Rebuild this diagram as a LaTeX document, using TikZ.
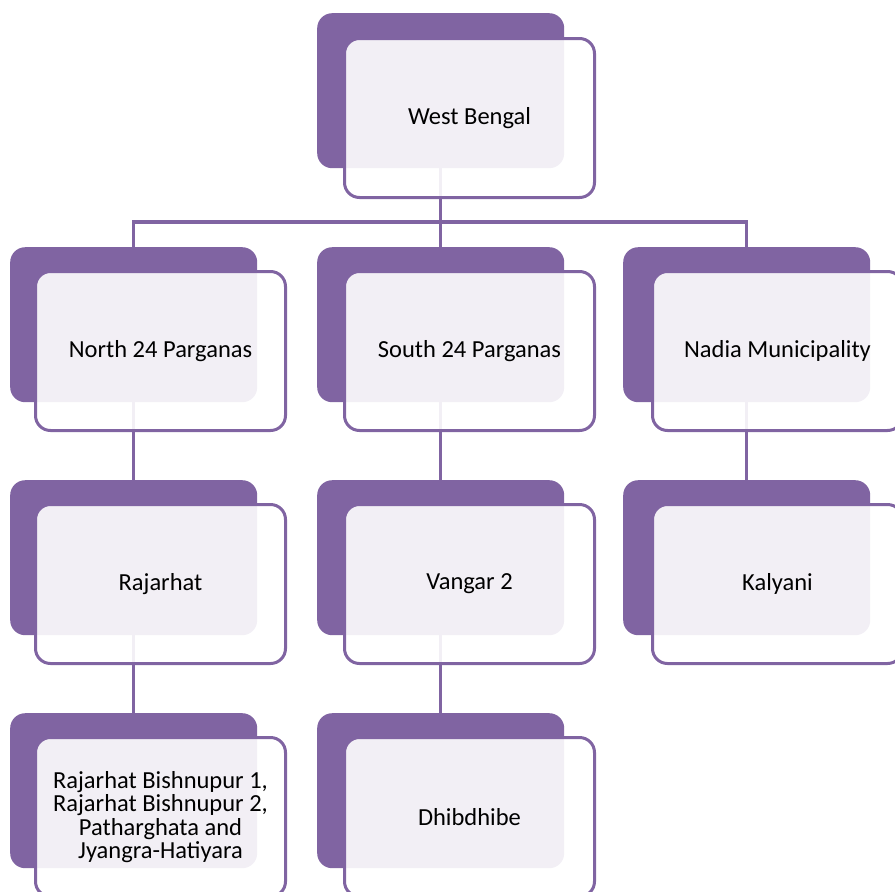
\documentclass[tikz,border=0pt]{standalone}
\usepackage{fontspec}
\setmainfont{Carlito}
\usetikzlibrary{positioning,calc}
\definecolor{smartpurple}{HTML}{8064A2}

\begin{document}
\begin{tikzpicture}[x=1pt,y=-1pt]
\useasboundingbox (0,0) rectangle (895,892);

\tikzstyle{back} = [fill=smartpurple, rounded corners=15pt, minimum width=247pt, minimum height=155pt, anchor=north west, inner sep=0pt]
\tikzstyle{block} = [draw=smartpurple, line width=3pt, fill=white, fill opacity=0.9, text opacity=1, rounded corners=15pt, minimum width=250pt, minimum height=159pt, anchor=north west, align=center, font=\fontsize{24.5}{23.5}\selectfont]
\tikzstyle{link} = [draw=smartpurple, line width=3.2pt]

% back shapes
\node[back] (wbb) at (317,13) {};
\node[back] (n24b) at (10,247) {};
\node[back] (s24b) at (317,247) {};
\node[back] (nadb) at (623,247) {};
\node[back] (rajb) at (10,480) {};
\node[back] (vanb) at (317,480) {};
\node[back] (kalb) at (623,480) {};
\node[back] (bisb) at (10,713) {};
\node[back] (dhib) at (317,713) {};

% connectors
\coordinate (bus) at (0,222);
\draw[link] (wbb.south) -- (s24b.north);
\draw[link] (n24b.north) |- (bus -| nadb.north) -- (nadb.north);
\draw[link] (n24b.south) -- (rajb.north);
\draw[link] (s24b.south) -- (vanb.north);
\draw[link] (nadb.south) -- (kalb.north);
\draw[link] (rajb.south) -- (bisb.north);
\draw[link] (vanb.south) -- (dhib.north);

% front shapes with text
\node[block] (wb) at ($(wbb.north west)+(26,24)$) {West Bengal};
\node[block] (n24) at ($(n24b.north west)+(24,23)$) {North 24 Parganas};
\node[block] (s24) at ($(s24b.north west)+(26,23)$) {South 24 Parganas};
\node[block] (nad) at ($(nadb.north west)+(28,23)$) {Nadia Municipality};
\node[block] (raj) at ($(rajb.north west)+(24,23)$) {Rajarhat};
\node[block] (van) at ($(vanb.north west)+(26,23)$) {Vangar 2};
\node[block] (kal) at ($(kalb.north west)+(28,23)$) {Kalyani};
\node[block] (bis) at ($(bisb.north west)+(24,23)$) {Rajarhat Bishnupur 1,\\Rajarhat Bishnupur 2,\\Patharghata and\\Jyangra-Hatiyara};
\node[block] (dhi) at ($(dhib.north west)+(26,23)$) {Dhibdhibe};

\end{tikzpicture}
\end{document}
